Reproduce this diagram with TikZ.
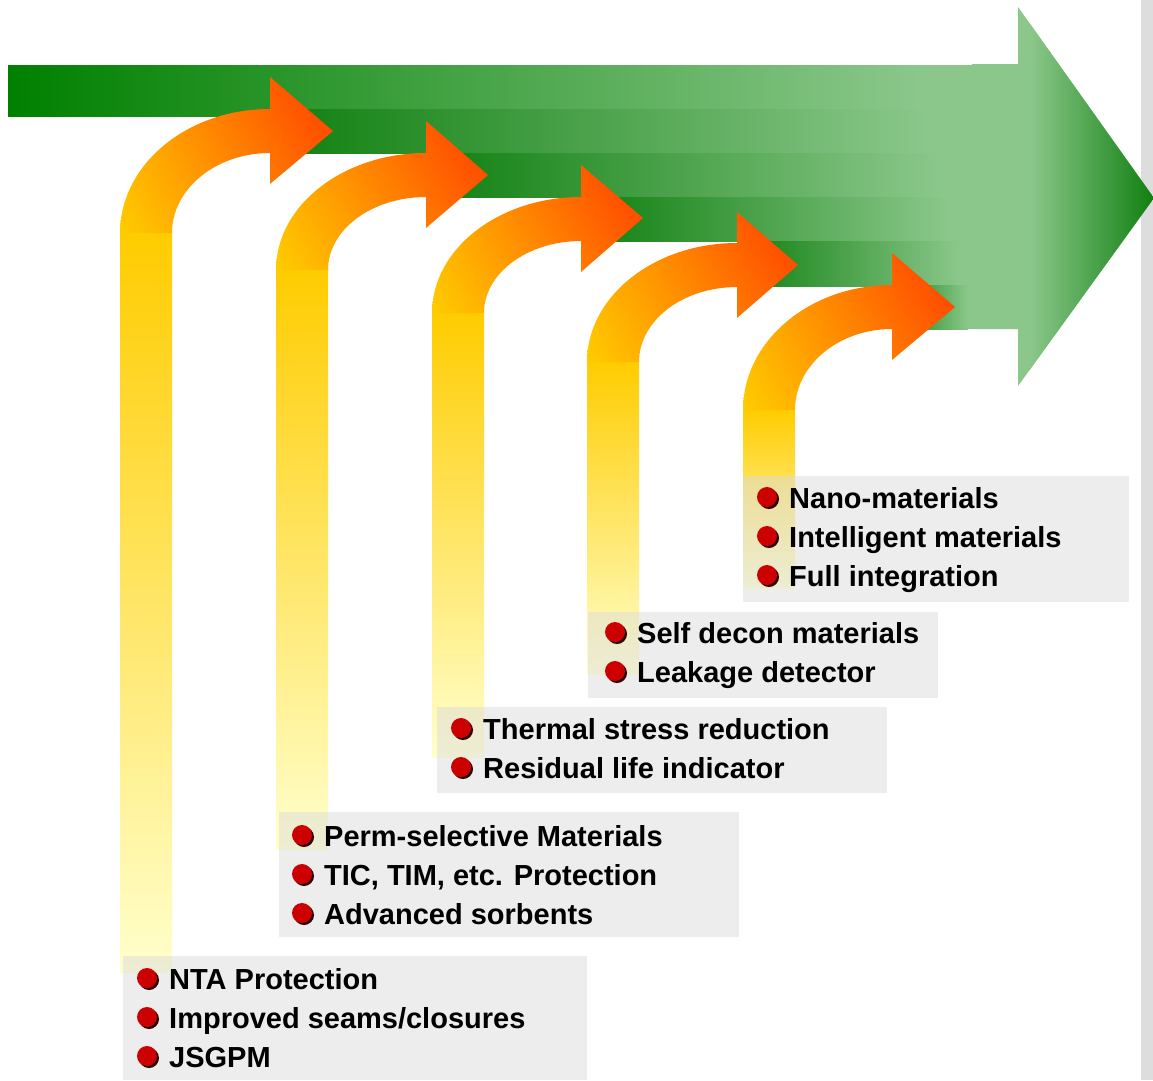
\documentclass[tikz,border=0pt]{standalone}
\usepackage{fontspec}
\setmainfont{Liberation Sans}
\usetikzlibrary{shadings}
\definecolor{dg}{RGB}{16,128,16}
\definecolor{dg0}{RGB}{0,128,0}
\definecolor{lg}{RGB}{139,199,139}
\definecolor{shafttop}{RGB}{255,204,0}
\definecolor{shaftbot}{RGB}{255,255,204}
\definecolor{oUL}{RGB}{255,165,0}
\definecolor{oUR}{RGB}{255,60,0}
\definecolor{oLL}{RGB}{255,204,0}
\definecolor{oLR}{RGB}{255,106,0}
\definecolor{boxgray}{RGB}{220,220,220}
\definecolor{bargray}{RGB}{221,221,221}
\definecolor{bulred}{RGB}{204,0,0}
\definecolor{bulshadow}{RGB}{40,0,0}
\newcommand\oarrow[9]{%
  \pgfmathsetmacro\rxo{#4-#1}%
  \pgfmathsetmacro\ryo{#2-#3}%
  \pgfmathsetmacro\rxi{#4-#1-52}%
  \pgfmathsetmacro\ryi{#2-#3-44}%
  \shade[top color=shafttop, bottom color=shaftbot] (#1,{#2-1}) rectangle ({#1+52},#9);
  \shade[upper left=oUL, upper right=oUR, lower left=oLL, lower right=oLR]
    (#1,#2) .. controls (#1,{#2-0.5523*\ryo}) and ({#4-0.5523*\rxo},#3) .. (#4,#3)
    -- (#4,#5) -- (#7,#8) -- (#4,#6) -- (#4,{#3+44})
    .. controls ({#4-0.5523*\rxi},{#3+44}) and ({#1+52},{#2-0.5523*\ryi}) .. ({#1+52},#2) -- cycle;
}
\newcommand\band[5]{%
  \shade[left color=#5, right color=lg] (#1,#2) rectangle (#4,#3);
  \fill[lg] ({#4-0.5},#2) rectangle (973,#3);
}
\newcommand\bul[2]{%
  \fill[bulshadow] ({#1+2},{#2+2}) circle[radius=10pt];
  \fill[bulred] (#1,#2) circle[radius=10pt];
}
\begin{document}
\begin{tikzpicture}[x=1pt,y=-1pt,
  item/.style={anchor=base west, inner sep=0pt, text=black,
    font=\fontsize{29}{35}\selectfont\bfseries},
  infobox/.style={fill=boxgray, fill opacity=0.5, draw=none}]
\useasboundingbox (0,0) rectangle (1153,1080);
\fill[white] (0,0) rectangle (1153,1080);
% right gray bar
\fill[bargray] (1141,0) rectangle (1153,1080);
% green stepped bands
\band{8}{65}{116}{920}{dg0}
\band{270}{109}{153}{930}{dg}
\band{426}{153}{197}{940}{dg}
\band{581}{197}{241}{950}{dg}
\band{737}{241}{286}{960}{dg}
\band{892}{285}{329}{968}{dg}
% big arrow
\fill[lg] (972,64) -- (1018,64) -- (1018,7) -- (1154,198) -- (1018,386) -- (1018,329) -- (972,329) -- cycle;
\begin{scope}
  \clip (972,64) -- (1018,64) -- (1018,7) -- (1154,198) -- (1018,386) -- (1018,329) -- (972,329) -- cycle;
  \shade[left color=lg, right color=dg] (1030,0) rectangle (1154,400);
\end{scope}
% orange arrows
\oarrow{120}{233}{109}{270}{77}{184}{333}{131}{972}
\oarrow{276}{270}{153}{426}{121}{228}{488}{175}{849}
\oarrow{432}{313}{197}{581}{165}{272}{643}{218}{757}
\oarrow{587}{362}{243}{737}{212}{318}{798}{265}{674}
\oarrow{743}{410}{285}{892}{253}{360}{955}{307}{588}
% boxes
\fill[infobox] (123,956) rectangle (587,1080);
\fill[infobox] (279,812) rectangle (739,937);
\fill[infobox] (437,707) rectangle (887,793);
\fill[infobox] (588,612) rectangle (938,698);
\fill[infobox] (743,476) rectangle (1129,602);
% box 1
\bul{147}{978}\node[item] (a1) at (169,989) {NTA Protection};
\bul{147}{1017}\node[item] (a2) at (169,1028) {Improved seams/closures};
\bul{147}{1056}\node[item] (a3) at (169,1067) {JSGPM};
% box 2
\bul{302}{835}\node[item] (b1) at (324,846) {Perm-selective Materials};
\bul{302}{874}\node[item] (b2) at (324,885) {TIC, TIM, etc. Protection};
\bul{302}{913}\node[item] (b3) at (324,924) {Advanced sorbents};
% box 3
\bul{461}{728}\node[item] (c1) at (483,739) {Thermal stress reduction};
\bul{461}{767}\node[item] (c2) at (483,778) {Residual life indicator};
% box 4
\bul{615}{632}\node[item] (d1) at (637,643) {Self decon materials};
\bul{615}{671}\node[item] (d2) at (637,682) {Leakage detector};
% box 5
\bul{767}{497}\node[item] (e1) at (789,508) {Nano-materials};
\bul{767}{536}\node[item] (e2) at (789,547) {Intelligent materials};
\bul{767}{575}\node[item] (e3) at (789,586) {Full integration};
\end{tikzpicture}
\end{document}
